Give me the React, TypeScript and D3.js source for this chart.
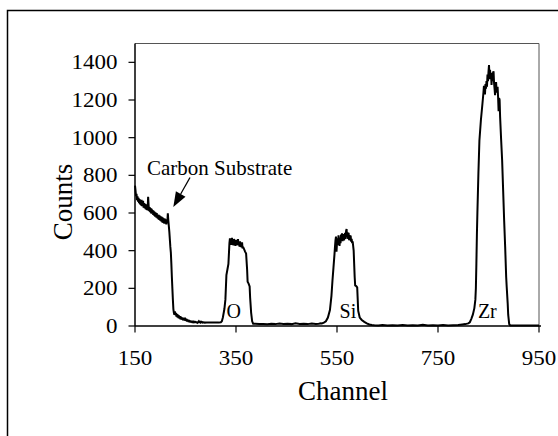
import React from 'react';
import * as d3 from 'd3';

// spectrum, [channel, counts]
const carbonEdge: [number, number][] = [
  [150, 745], [151, 720], [152, 690], [153, 702], [154, 668], [155, 688], [156, 660],
  [157, 680], [158, 652], [159, 674], [160, 646], [161, 668], [162, 640], [163, 670],
  [164, 636], [165, 656], [166, 664], [167, 628], [168, 652], [169, 626], [170, 648],
  [171, 620], [172, 642], [173, 616], [174, 646], [175, 614], [176, 686], [177, 640],
  [178, 610], [179, 632], [180, 604], [181, 626], [182, 598], [183, 622], [184, 596],
  [185, 616], [186, 590], [187, 612], [188, 586], [189, 606], [190, 580], [191, 602],
  [192, 576], [193, 600], [194, 572], [195, 592], [196, 568], [197, 590], [198, 563],
  [199, 586], [200, 560], [201, 582], [202, 556], [203, 580], [204, 550], [205, 576],
  [206, 548], [207, 572], [208, 543], [209, 570], [210, 546], [211, 566], [212, 540],
  [213, 562], [214, 548], [215, 598], [216, 560], [217, 530], [218, 500], [219, 460],
  [220, 420], [221, 390], [222, 330], [223, 260], [224, 200], [225, 140], [226, 90],
  [227, 70], [228, 60],
];

const lowTail: [number, number][] = [
  [229, 78], [230, 58], [231, 70], [232, 50], [233, 64], [234, 46], [235, 60], [236, 42],
  [237, 56], [238, 40], [239, 52], [240, 36], [241, 50], [242, 34], [244, 46], [245, 30],
  [246, 42], [248, 30], [249, 44], [250, 28], [252, 38], [253, 24], [254, 34], [256, 22],
  [257, 32], [258, 20], [260, 30], [261, 18], [262, 26], [264, 18], [265, 28], [266, 16],
  [268, 26], [269, 18], [270, 24], [272, 16], [273, 22], [274, 18], [276, 24], [277, 17],
  [278, 26], [280, 18], [282, 22], [284, 18], [286, 20], [288, 18], [292, 19], [296, 18],
  [300, 18], [304, 18], [308, 18], [312, 18], [316, 18], [320, 20],
];

const oxygenPeak: [number, number][] = [
  [322, 25], [324, 45], [327, 90], [329, 140], [331, 270], [333, 300], [335, 330],
  [337, 440], [338, 465], [339, 438], [340, 455], [341, 430], [342, 468], [343, 442],
  [344, 458], [345, 428], [346, 462], [347, 440], [348, 455], [349, 425], [350, 458],
  [351, 436], [352, 452], [353, 430], [354, 462], [355, 428], [356, 448], [357, 422],
  [358, 450], [359, 420], [360, 440], [361, 418], [362, 444], [363, 412], [364, 420],
  [366, 408], [368, 395], [370, 385], [372, 300], [373, 235], [375, 225], [377, 210],
  [378, 150], [380, 70], [382, 25], [384, 12],
];

const gapOSi: [number, number][] = [
  [388, 12], [396, 10], [404, 11], [412, 9], [420, 12], [428, 10], [436, 13], [444, 11],
  [452, 12], [460, 10], [468, 14], [476, 11], [484, 12], [492, 10], [500, 13], [508, 11],
  [514, 12], [518, 15],
];

const siliconPeak: [number, number][] = [
  [520, 14], [524, 18], [528, 25], [532, 45], [536, 85], [539, 160], [541, 240],
  [543, 310], [545, 380], [546, 420], [547, 455], [548, 475], [549, 395], [550, 440],
  [551, 465], [552, 430], [553, 482], [554, 450], [555, 425], [556, 468], [557, 440],
  [558, 485], [559, 455], [560, 492], [561, 450], [562, 478], [563, 488], [564, 455],
  [565, 475], [566, 495], [567, 462], [568, 505], [569, 515], [570, 470], [571, 498],
  [572, 462], [573, 495], [574, 455], [575, 482], [576, 460], [577, 480], [578, 448],
  [579, 462], [580, 440], [581, 450], [583, 400], [585, 260], [586, 215], [588, 212],
  [590, 205], [592, 80], [595, 45], [599, 32], [604, 22], [609, 14], [614, 8], [619, 5],
];

const gapSiZr: [number, number][] = [
  [624, 4], [632, 3], [640, 5], [650, 3], [660, 4], [670, 3], [680, 5], [690, 3],
  [700, 4], [710, 3], [720, 6], [730, 3], [740, 4], [750, 3], [760, 5], [770, 3],
  [780, 4], [790, 5], [798, 8], [804, 10], [810, 14],
];

const zirconiumPeak: [number, number][] = [
  [813, 20], [816, 38], [819, 60], [822, 95], [824, 140], [825, 200], [826, 330],
  [827, 480], [828, 600], [830, 810], [832, 985], [835, 1095], [838, 1180], [840, 1240],
  [841, 1275], [842, 1250], [843, 1230], [844, 1285], [845, 1260], [846, 1300],
  [847, 1270], [848, 1335], [849, 1300], [850, 1350], [851, 1385], [852, 1310],
  [853, 1360], [854, 1320], [855, 1345], [856, 1280], [857, 1330], [858, 1300],
  [859, 1345], [860, 1352], [861, 1290], [862, 1260], [863, 1225], [864, 1275],
  [865, 1295], [866, 1250], [867, 1240], [868, 1270], [869, 1215], [870, 1140],
  [871, 1210], [872, 1200], [873, 1110], [875, 990], [877, 880], [879, 720], [881, 560],
  [883, 420], [885, 260], [886, 210], [888, 120], [889, 60], [891, 10], [893, 3],
];

const highTail: [number, number][] = [
  [895, 3], [905, 2], [915, 3], [925, 2], [935, 3], [945, 2], [950, 2],
];

const xTicks = [150, 350, 550, 750, 950];
const yTicks = [0, 200, 400, 600, 800, 1000, 1200, 1400];

const peakLabels = ['O', 'Si', 'Zr'];
const peakLabelChannels = [331, 555, 829];

const font = '"Liberation Serif", "Times New Roman", serif';

export default function App() {
  const width = 558;
  const height = 436;
  const margin = { top: 43.5, right: 19, bottom: 110, left: 135 };

  const x = d3.scaleLinear().domain([150, 950]).range([margin.left, width - margin.right]);
  const y = d3.scaleLinear().domain([0, 1500]).range([height - margin.bottom, margin.top]);

  const spectrum = [
    ...carbonEdge, ...lowTail, ...oxygenPeak, ...gapOSi,
    ...siliconPeak, ...gapSiZr, ...zirconiumPeak, ...highTail,
  ];

  const line = d3.line<[number, number]>()
    .x(d => x(d[0]))
    .y(d => y(d[1]));

  const x0 = x(150), x1 = x(950);
  const y0 = y(0), yTop = margin.top;

  // arrow pointing at the carbon edge
  const tail = [190, 177.5];
  const tip = [173.3, 207];
  const dx = tip[0] - tail[0], dy = tip[1] - tail[1];
  const len = Math.sqrt(dx * dx + dy * dy);
  const ux = dx / len, uy = dy / len;
  const headLen = 15, headW = 5.5;
  const bx = tip[0] - ux * headLen, by = tip[1] - uy * headLen;
  const head = [
    [tip[0], tip[1]],
    [bx - uy * headW, by + ux * headW],
    [bx + uy * headW, by - ux * headW],
  ].map(p => p.join(',')).join(' ');

  return (
    <svg width={width} height={height}
         style={{ position: 'absolute', left: 0, top: 0, background: '#fff', fontFamily: font }}>
      {/* outer frame, runs off the right and bottom */}
      <rect x={7.5} y={10.5} width={700} height={600} fill="none" stroke="#000" strokeWidth={1.5} />

      {/* plot border */}
      <path d={`M${x0},${yTop}H${x1}V${y0}`} fill="none" stroke="#555" strokeWidth={1} />

      <path d={line(spectrum) || ''} fill="none" stroke="#000" strokeWidth={2} strokeLinejoin="miter" strokeMiterlimit={2} />

      {/* axes */}
      <line x1={x0} x2={x0} y1={yTop} y2={y0} stroke="#000" strokeWidth={1.5} />
      <line x1={x0} x2={x1 + 2} y1={y0} y2={y0} stroke="#000" strokeWidth={1.5} />

      {yTicks.map(t => (
        <g key={'y' + t}>
          <line x1={x0 - 6.5} x2={x0} y1={y(t)} y2={y(t)} stroke="#000" strokeWidth={1.2} />
          <text transform={`translate(${x0 - 17.5},${y(t) + 7}) scale(1.15,1)`}
                textAnchor="end" fontSize={20}>{t}</text>
        </g>
      ))}

      {xTicks.map(t => (
        <g key={'x' + t}>
          <line x1={x(t)} x2={x(t)} y1={y0} y2={y0 + 6.5} stroke="#000" strokeWidth={1.2} />
          <text transform={`translate(${x(t)},365) scale(1.15,1)`}
                textAnchor="middle" fontSize={20}>{t}</text>
        </g>
      ))}

      <text x={343} y={400} textAnchor="middle" fontSize={27}>Channel</text>
      <text transform="translate(72,202) rotate(-90)" textAnchor="middle" fontSize={27}>Counts</text>

      <text x={147} y={175} fontSize={21}>Carbon Substrate</text>
      <line x1={tail[0]} y1={tail[1]} x2={bx} y2={by} stroke="#000" strokeWidth={1.3} />
      <polygon points={head} fill="#000" />

      {peakLabels.map((lab, i) => (
        <text key={lab} x={x(peakLabelChannels[i])} y={318} fontSize={20}>{lab}</text>
      ))}
    </svg>
  );
}
